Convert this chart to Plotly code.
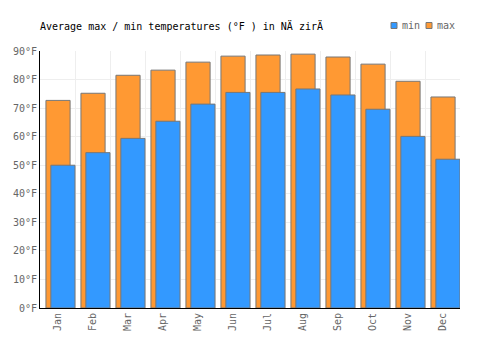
import plotly.graph_objects as go

months = ["Jan", "Feb", "Mar", "Apr", "May", "Jun", "Jul", "Aug", "Sep", "Oct", "Nov", "Dec"]
max_temps = [72.7, 75.2, 81.5, 83.3, 86.1, 88.2, 88.6, 88.9, 87.9, 85.4, 79.4, 73.9]
min_temps = [50.0, 54.4, 59.4, 65.4, 71.4, 75.5, 75.5, 76.7, 74.6, 69.6, 60.1, 52.1]

FONT = "DejaVu Sans Mono"
MAX_COLOR = "#ff9933"
MIN_COLOR = "#3399ff"
EDGE = "#777777"

fig = go.Figure()
fig.add_trace(go.Bar(
    x=months, y=max_temps, name="max",
    marker=dict(color=MAX_COLOR, line=dict(color=EDGE, width=1)),
    offset=-0.33, width=0.69, showlegend=False,
    hovertemplate="%{x}: %{y}°F<extra>max</extra>",
))
fig.add_trace(go.Bar(
    x=months, y=min_temps, name="min",
    marker=dict(color=MIN_COLOR, line=dict(color=EDGE, width=1)),
    offset=-0.19, width=0.69, showlegend=False,
    hovertemplate="%{x}: %{y}°F<extra>min</extra>",
))

# custom compact legend (pixel positions converted to paper coords)
L, R, T, B = 40, 460, 51, 308
def px(x):
    return (x - L) / (R - L)
def py(y):
    return (B - y) / (B - T)

legend_items = [("min", MIN_COLOR, 391), ("max", MAX_COLOR, 426)]
shapes = []
annotations = []
for label, color, x0 in legend_items:
    shapes.append(dict(type="rect", xref="paper", yref="paper",
                       x0=px(x0), x1=px(x0 + 6), y0=py(28.5), y1=py(22.5),
                       fillcolor=color, line=dict(color=EDGE, width=1)))
    annotations.append(dict(text=label, xref="paper", yref="paper",
                            x=px(x0 + 8.5), y=py(25.5), xanchor="left", yanchor="middle",
                            showarrow=False,
                            font=dict(family=FONT, size=10, color="#666666")))

fig.update_layout(
    width=500, height=350,
    margin=dict(l=40, r=40, t=51, b=42),
    barmode="overlay",
    paper_bgcolor="white", plot_bgcolor="white",
    font=dict(family=FONT, size=10, color="#666666"),
    title=dict(
        text="Average max / min temperatures (°F ) in NÄ zirÄ",
        x=40/500, xanchor="left", xref="container",
        y=1-26/350, yanchor="middle", yref="container",
        font=dict(family=FONT, size=10, color="#000000"),
    ),
    showlegend=False,
    shapes=shapes,
    annotations=annotations,
    xaxis=dict(
        type="category", tickangle=-90,
        showgrid=True, gridcolor="#eeeeee", tickson="boundaries",
        showline=True, linecolor="#000000", linewidth=1,
        ticks="", range=[-0.5, 11.5],
    ),
    yaxis=dict(
        range=[0, 90], dtick=10, ticksuffix="°F",
        showgrid=True, gridcolor="#eeeeee",
        showline=True, linecolor="#000000", linewidth=1,
        ticks="", zeroline=False,
    ),
)

fig.write_html("out.html")
